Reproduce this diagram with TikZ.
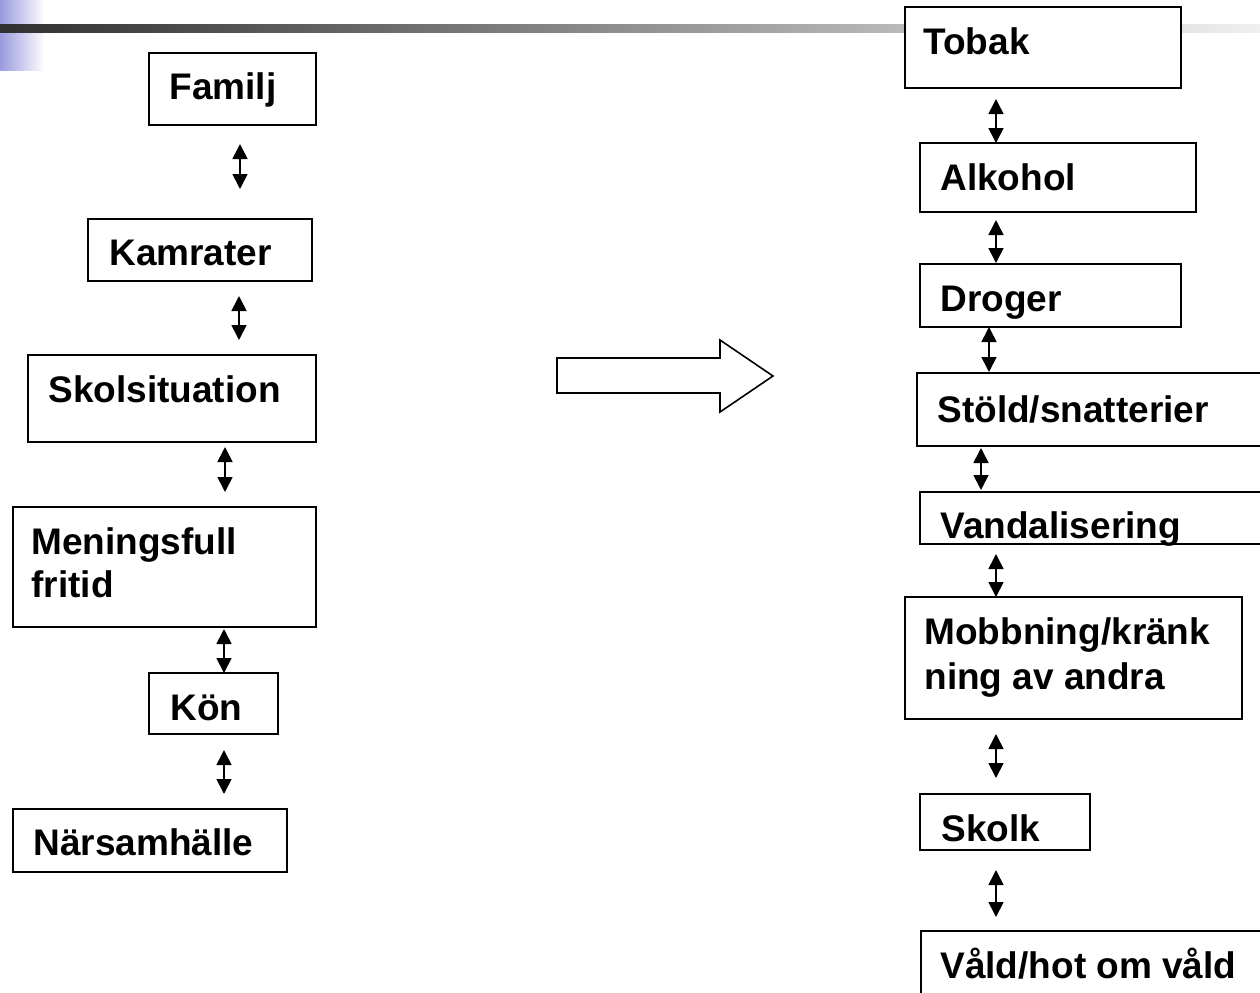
\documentclass[tikz,border=0pt]{standalone}
\usepackage{fontspec}
\setmainfont{Liberation Sans}
\usetikzlibrary{arrows.meta}
\definecolor{stripblue}{HTML}{9A9ADE}
\definecolor{bardark}{HTML}{303030}
\definecolor{barlight}{HTML}{F0F0F0}
\tikzset{
  box/.style={draw=black, fill=white, line width=1.1pt, inner sep=0pt, rectangle},
  lbl/.style={anchor=base west, inner sep=0pt, font=\fontsize{18.5pt}{22pt}\selectfont\bfseries},
  dbl/.style={line width=0.85pt, {Triangle[length=7.5pt,width=7.5pt]}-{Triangle[length=7.5pt,width=7.5pt]}},
  bigarrow/.style={draw=black, line width=0.8pt, fill=white, line join=miter}
}
\begin{document}
\begin{tikzpicture}[x=0.5pt, y=-0.5pt]
\useasboundingbox (0,0) rectangle (1260,992);
\clip (0,0) rectangle (1260,992);
\fill[white] (0,0) rectangle (1260,992);
% header decoration
\shade[left color=stripblue, right color=white] (0,0) rectangle (45,70);
\shade[left color=bardark, right color=barlight] (0,24) rectangle (1260,32);

% left column boxes
\node[box, minimum width=83.5pt, minimum height=36pt] (familj) at (232.5,89) {};
\node[box, minimum width=112pt, minimum height=31pt] (kamrater) at (200,250) {};
\node[box, minimum width=144pt, minimum height=43.5pt] (skol) at (172,398.5) {};
\node[box, minimum width=151.5pt, minimum height=60pt] (fritid) at (164.5,567) {};
\node[box, minimum width=64.5pt, minimum height=30.5pt] (kon) at (213.5,703.5) {};
\node[box, minimum width=137pt, minimum height=31.5pt] (nars) at (150,840.5) {};

\node[lbl] (tfamilj) at (169,99) {Familj};
\node[lbl] (tkamrater) at (109,265) {Kamrater};
\node[lbl] (tskol) at (48,402) {Skolsituation};
\node[lbl] (tfritid1) at (31,554) {Meningsfull};
\node[lbl] (tfritid2) at (31,597) {fritid};
\node[lbl] (tkon) at (170,720) {Kön};
\node[lbl] (tnars) at (33,855) {Närsamhälle};

% right column boxes
\node[box, minimum width=138pt, minimum height=40.5pt] (tobak) at (1043,47.5) {};
\node[box, minimum width=138pt, minimum height=34.5pt] (alkohol) at (1058,177.5) {};
\node[box, minimum width=130.5pt, minimum height=31.5pt] (droger) at (1050.5,295.5) {};
\node[box, minimum width=181.5pt, minimum height=36.5pt] (stold) at (1098.5,409.5) {};
\node[box, minimum width=180pt, minimum height=26pt] (vandal) at (1100,518) {};
\node[box, minimum width=168.5pt, minimum height=61pt] (mobb) at (1073.5,658) {};
\node[box, minimum width=85pt, minimum height=28pt] (skolk) at (1005,822) {};
\node[box, minimum width=179.5pt, minimum height=39.5pt] (vald) at (1100.5,970.5) {};

\node[lbl] (ttobak) at (923,54) {Tobak};
\node[lbl] (talkohol) at (940,190) {Alkohol};
\node[lbl] (tdroger) at (940,311) {Droger};
\node[lbl] (tstold) at (937,422) {Stöld/snatterier};
\node[lbl] (tvandal) at (940,538) {Vandalisering};
\node[lbl] (tmobb1) at (924,644) {Mobbning/kränk};
\node[lbl] (tmobb2) at (924,689) {ning av andra};
\node[lbl] (tskolk) at (941,841) {Skolk};
\node[lbl] (tvald) at (940,978) {Våld/hot om våld};

% arrow end points
\coordinate (a1s) at (240,144); \coordinate (a1e) at (240,189);
\coordinate (a2s) at (239,296); \coordinate (a2e) at (239,340);
\coordinate (a3s) at (225,447); \coordinate (a3e) at (225,492);
\coordinate (a4s) at (224,629); \coordinate (a4e) at (224,673);
\coordinate (a5s) at (224,750); \coordinate (a5e) at (224,794);
\coordinate (b1s) at (996,99);  \coordinate (b1e) at (996,143);
\coordinate (b2s) at (996,220); \coordinate (b2e) at (996,263);
\coordinate (b3s) at (989,327); \coordinate (b3e) at (989,372);
\coordinate (b4s) at (981,448); \coordinate (b4e) at (981,490);
\coordinate (b5s) at (996,554); \coordinate (b5e) at (996,597);
\coordinate (b6s) at (996,734); \coordinate (b6e) at (996,778);
\coordinate (b7s) at (996,870); \coordinate (b7e) at (996,917);

\foreach \n in {a1,a2,a3,a4,a5,b1,b2,b3,b4,b5,b6,b7}
  \draw[dbl] (\n s) -- (\n e);

% big block arrow
\draw[bigarrow] (557,358) -- (720,358) -- (720,340) -- (773,376) -- (720,412) -- (720,393) -- (557,393) -- cycle;
\end{tikzpicture}
\end{document}
